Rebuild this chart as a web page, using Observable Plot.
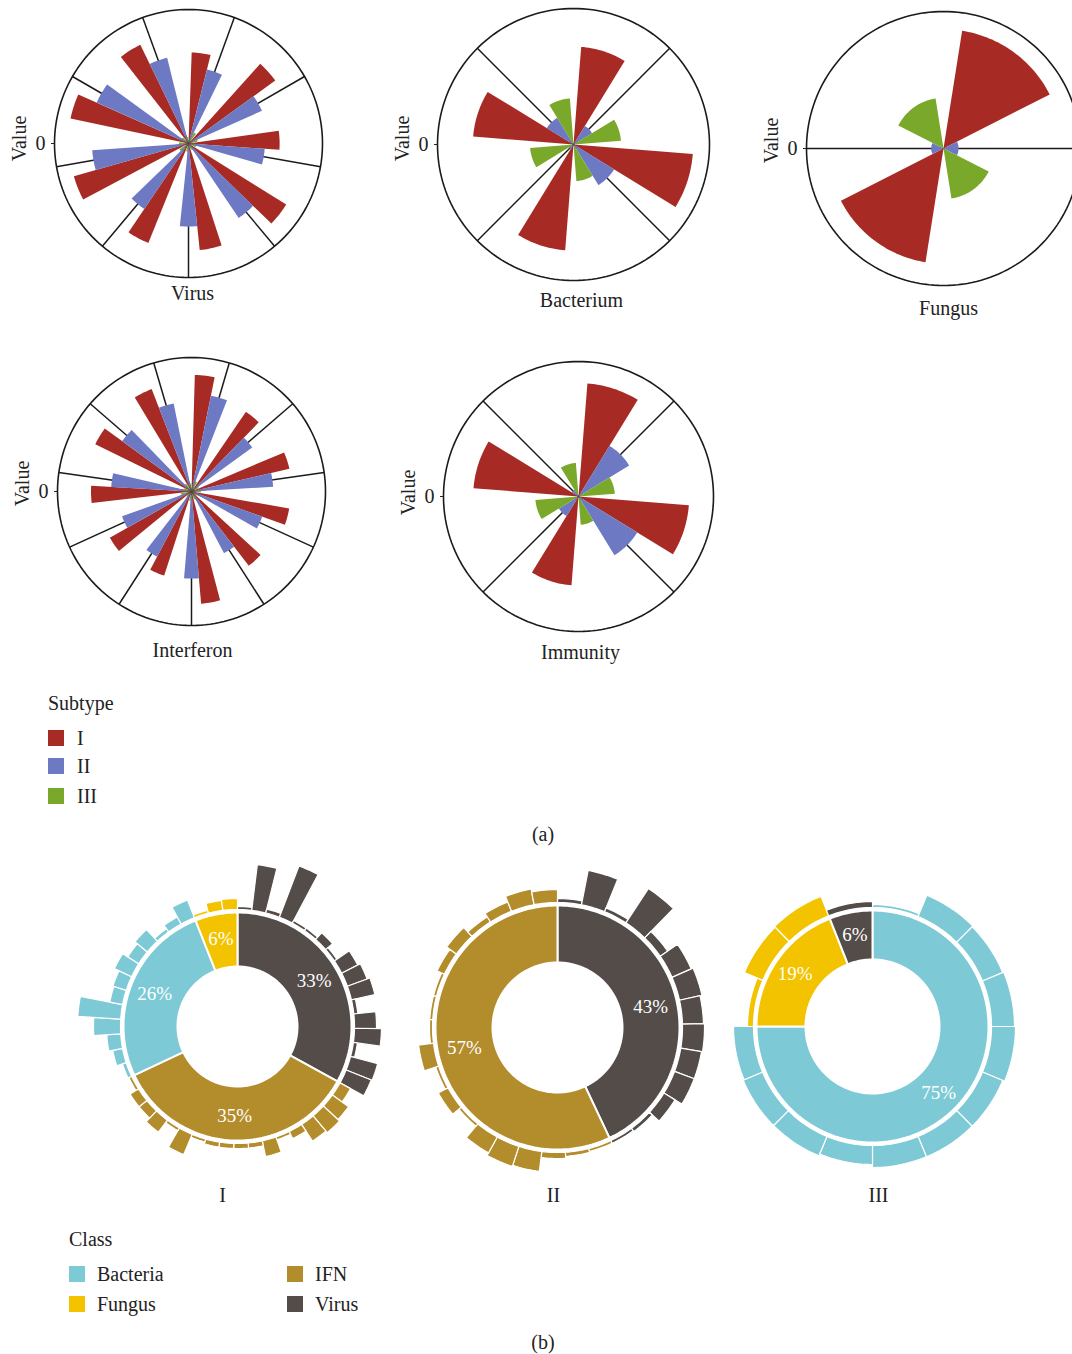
<!DOCTYPE html>
<html><head><meta charset="utf-8">
<script src="https://cdn.jsdelivr.net/npm/d3@7"></script>
<script src="https://cdn.jsdelivr.net/npm/@observablehq/plot@0.6"></script>
<style>
html,body{margin:0;padding:0;background:#fff;}
#root{position:relative;width:1072px;height:1354px;overflow:hidden;background:#fff;font-family:"Liberation Serif",serif;color:#222;}
.abs{position:absolute;}
.txt{position:absolute;font-size:20px;line-height:24px;white-space:nowrap;color:#222;}
</style></head><body><div id="root"></div>
<script>
// ---------- (a) rose charts: values per category for subtypes I, II, III ----------
const subtypes = ["I", "II", "III"];
const subtypeColors = ["#A72B24", "#6E79C3", "#79A82B"];

const virusI   = [0.68, 0.80, 0.68, 0.86, 0.80, 0.80, 0.89, 0.90, 0.82];
const virusII  = [0.57, 0.60, 0.57, 0.67, 0.62, 0.59, 0.72, 0.75, 0.66];
const virusIII = [0.09, 0.07, 0.06, 0.05, 0.06, 0.08, 0.07, 0.06, 0.05];

const bacteriumI   = [0.72, 0.88, 0.78, 0.74];
const bacteriumII  = [0.16, 0.35, 0.04, 0.23];
const bacteriumIII = [0.35, 0.27, 0.32, 0.34];

const fungusI   = [0.87, 0.84];
const fungusII  = [0.11, 0.09];
const fungusIII = [0.37, 0.37];

const interferonI   = [0.87, 0.72, 0.75, 0.74, 0.70, 0.84, 0.66, 0.70, 0.75, 0.80, 0.82];
const interferonII  = [0.73, 0.56, 0.61, 0.56, 0.52, 0.65, 0.55, 0.55, 0.60, 0.64, 0.67];
const interferonIII = [0.08, 0.06, 0.07, 0.05, 0.06, 0.07, 0.05, 0.08, 0.06, 0.07, 0.06];

const immunityI   = [0.84, 0.82, 0.66, 0.78];
const immunityII  = [0.44, 0.51, 0.17, 0.06];
const immunityIII = [0.27, 0.21, 0.32, 0.25];

// ---------- (b) donut charts ----------
const classNames = ["Bacteria", "Fungus", "IFN", "Virus"];
const classColors = ["#7DCAD6", "#F3C300", "#B38C2B", "#534C49"];

const classesI = ["Virus", "IFN", "Bacteria", "Fungus"];
const pctI = [33, 35, 26, 6];
const barsIVirus    = [3, 46, 4, 55, 3, 3, 9, 3, 18, 21, 24, 4, 22, 27, 4, 28, 27];
const barsIIFN      = [12, 20, 22, 20, 8, 3, 16, 5, 5, 5, 5, 3, 22, 3, 15, 10, 10, 3];
const barsIBacteria = [4, 10, 14, 27, 43, 13, 14, 19, 13, 16, 4, 8, 19];
const barsIFungus   = [3, 10, 11];

const classesII = ["Virus", "IFN"];
const pctII = [43, 57];
const barsIIVirus = [4, 35, 4, 41, 9, 21, 23, 21, 22, 21, 21, 13, 4, 3];
const barsIIIFN   = [3, 4, 6, 20, 21, 18, 3, 11, 3, 15, 3, 3, 3, 8, 12, 6, 10, 16, 13];

const classesIII = ["Bacteria", "Fungus", "Virus"];
const pctIII = [75, 19, 6];
const barsIIIBacteria = [3, 23, 22, 23, 24, 22, 22, 22, 19, 21, 21, 20];
const barsIIIFungus   = [6, 20, 21];
const barsIIIVirus    = [6];

// ---------- helpers ----------
const root = document.getElementById("root");
const STYLE = "max-width:none;background:transparent;overflow:visible;font-family:'Liberation Serif',serif;font-size:20px;color:#222;";

function place(node, left, top) {
  const d = document.createElement("div");
  d.className = "abs";
  d.style.left = left + "px"; d.style.top = top + "px";
  d.appendChild(node);
  root.appendChild(d);
}
function addText(str, x, y, align) {
  const d = document.createElement("div");
  d.className = "txt";
  d.textContent = str;
  d.style.top = (y - 12) + "px";
  if (align === "center") { d.style.left = (x - 100) + "px"; d.style.width = "200px"; d.style.textAlign = "center"; }
  else d.style.left = x + "px";
  root.appendChild(d);
}
function addSwatch(color, x, y) {
  const d = document.createElement("div");
  d.className = "abs";
  Object.assign(d.style, {left: x + "px", top: (y - 8) + "px", width: "16px", height: "16px", background: color});
  root.appendChild(d);
}
function polarXY(deg, r) { const a = deg * Math.PI / 180; return {x: r * Math.sin(a), y: r * Math.cos(a)}; }
function arcPts(a0, a1, r0, r1, id, extra) {
  const n = Math.max(2, Math.ceil((a1 - a0) / 1.5));
  const pts = [];
  for (let k = 0; k <= n; k++) pts.push({...polarXY(a0 + (a1 - a0) * k / n, r1), id, ...extra});
  if (r0 <= 0) pts.push({x: 0, y: 0, id, ...extra});
  else for (let k = n; k >= 0; k--) pts.push({...polarXY(a0 + (a1 - a0) * k / n, r0), id, ...extra});
  pts.push({...pts[0]});
  return pts;
}

// ---------- rose chart ----------
function rose(p) {
  const ML = 60, MR = 4, MT = 4, MB = 46;
  const cats = p.series[0].map((_, i) => `${p.title} ${i + 1}`);
  const rows = cats.flatMap((c, i) => subtypes.map((s, j) => ({cat: c, subtype: s, value: p.series[j][i]})));
  const band = d3.scaleBand(cats, [0, 360]).paddingInner(0.1).paddingOuter(0.05);
  const sub = d3.scaleBand(subtypes, [0, band.bandwidth()]);
  const wedges = rows.flatMap((d, k) => {
    const a0 = band(d.cat) + sub(d.subtype);
    return arcPts(a0, a0 + sub.bandwidth(), 0, d.value, k, {subtype: d.subtype});
  });
  const spokes = cats.map(c => polarXY(band(c) + band.bandwidth() / 2, 1));
  const ring = d3.range(0, 361, 2).map(a => polarXY(a, 1));
  const svg = Plot.plot({
    width: ML + 2 * p.R + MR, height: MT + 2 * p.R + MB,
    marginLeft: ML, marginRight: MR, marginTop: MT, marginBottom: MB,
    x: {domain: [-1, 1], axis: null},
    y: {domain: [-1, 1]},
    color: {domain: subtypes, range: subtypeColors},
    style: STYLE,
    marks: [
      Plot.line(ring, {x: "x", y: "y", stroke: "#1b1b1b", strokeWidth: 1.6}),
      Plot.link(spokes, {x1: () => 0, y1: () => 0, x2: "x", y2: "y", stroke: "#1b1b1b", strokeWidth: 1.5}),
      Plot.line(wedges, {x: "x", y: "y", z: "id", fill: "subtype", stroke: "none"}),
      Plot.axisY({ticks: [0], tickFormat: d => String(d), tickSize: 3, tickPadding: 6, label: null, fontSize: 20}),
      Plot.text(["Value"], {text: d => d, frameAnchor: "left", textAnchor: "middle", lineAnchor: "middle", dx: -35, dy: p.valueDy, rotate: -90, fontSize: 20, fill: "#222"}),
      Plot.text([p.title], {text: d => d, frameAnchor: "bottom", textAnchor: "middle", lineAnchor: "middle", dy: p.gap, dx: p.titleDx, fontSize: 20, fill: "#222"})
    ]
  });
  place(svg, p.cx - p.R - ML, p.cy - p.R - MT);
}

rose({title: "Virus", series: [virusI, virusII, virusIII], cx: 188, cy: 143, R: 134, gap: 16, titleDx: 4, valueDy: -5});
rose({title: "Bacterium", series: [bacteriumI, bacteriumII, bacteriumIII], cx: 573, cy: 144, R: 136, gap: 20, titleDx: 8, valueDy: -6});
rose({title: "Fungus", series: [fungusI, fungusII, fungusIII], cx: 943, cy: 148, R: 137, gap: 23, titleDx: 5, valueDy: -8});
rose({title: "Interferon", series: [interferonI, interferonII, interferonIII], cx: 191, cy: 491, R: 134, gap: 25, titleDx: 1, valueDy: -8});
rose({title: "Immunity", series: [immunityI, immunityII, immunityIII], cx: 578, cy: 496, R: 135, gap: 21, titleDx: 2, valueDy: -4});

// subtype legend
addText("Subtype", 48, 703);
subtypes.forEach((s, i) => {
  const y = [738, 766, 796][i];
  addSwatch(subtypeColors[i], 48, y);
  addText(s, 77, y);
});
addText("(a)", 543, 834, "center");

// ---------- donut chart ----------
function donut(p) {
  const D = 180;
  const pie = d3.pie().sort(null).value(d => d.pct)(p.classes.map((c, i) => ({cls: c, pct: p.pct[i], bars: p.bars[i]})));
  const inner = [], outer = [], labels = [];
  pie.forEach((s, i) => {
    const a0 = s.startAngle * 180 / Math.PI, a1 = s.endAngle * 180 / Math.PI;
    inner.push(...arcPts(a0, a1, p.hole, p.ring, "in" + i, {cls: s.data.cls}));
    const step = (a1 - a0) / s.data.bars.length;
    s.data.bars.forEach((h, k) => outer.push(...arcPts(a0 + k * step, a0 + (k + 1) * step, p.ring + 3, p.ring + 3 + h, `out${i}-${k}`, {cls: s.data.cls})));
    labels.push({...polarXY((a0 + a1) / 2, (p.hole + p.ring) / 2 + 2), text: s.data.pct + "%"});
  });
  const svg = Plot.plot({
    width: 2 * D, height: 2 * D, margin: 0,
    x: {domain: [-D, D], axis: null},
    y: {domain: [-D, D], axis: null},
    color: {domain: classNames, range: classColors},
    style: STYLE,
    marks: [
      Plot.line(outer, {x: "x", y: "y", z: "id", fill: "cls", stroke: "white", strokeWidth: 1.2}),
      Plot.line(inner, {x: "x", y: "y", z: "id", fill: "cls", stroke: "white", strokeWidth: 2}),
      Plot.text(labels, {x: "x", y: "y", text: "text", fill: "white", fontSize: 19}),
      Plot.text([p.name], {text: d => d, frameAnchor: "bottom", textAnchor: "middle", lineAnchor: "middle", dy: 1195 - p.cy - D, dx: p.labelDx, fontSize: 20, fill: "#222"})
    ]
  });
  place(svg, p.cx - D, p.cy - D);
}

donut({name: "I", classes: classesI, pct: pctI, bars: [barsIVirus, barsIIFN, barsIBacteria, barsIFungus], cx: 237, cy: 1026, hole: 60, ring: 114, labelDx: -15});
donut({name: "II", classes: classesII, pct: pctII, bars: [barsIIVirus, barsIIIFN], cx: 557, cy: 1027, hole: 65, ring: 122, labelDx: -4});
donut({name: "III", classes: classesIII, pct: pctIII, bars: [barsIIIBacteria, barsIIIFungus, barsIIIVirus], cx: 872, cy: 1026, hole: 67, ring: 116, labelDx: 6});

// class legend
addText("Class", 69, 1239);
[["Bacteria", 69, 1274], ["Fungus", 69, 1304], ["IFN", 287, 1274], ["Virus", 287, 1304]].forEach(([c, x, y]) => {
  addSwatch(classColors[classNames.indexOf(c)], x, y);
  addText(c, x + 28, y);
});
addText("(b)", 543, 1342, "center");
</script></body></html>
